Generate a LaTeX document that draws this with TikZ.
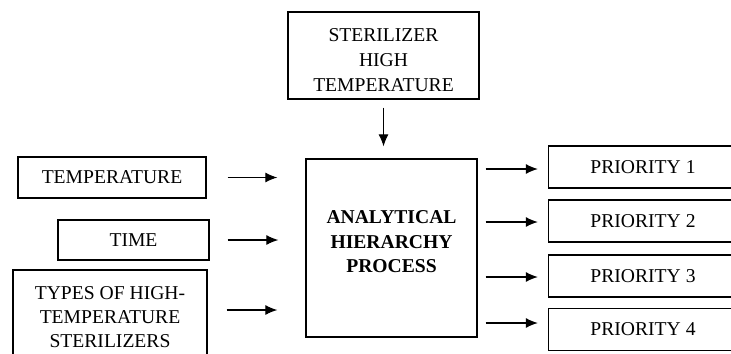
\documentclass[tikz,border=0pt]{standalone}
\usepackage{fontspec}
\setmainfont{Liberation Serif}
\usetikzlibrary{arrows.meta}

\begin{document}
\begin{tikzpicture}[x=0.5pt, y=-0.5pt, main/.style = {draw, rectangle, line width=0.7pt, align=center, inner sep=0pt, font=\fontsize{9.8}{11.8}\selectfont}, arr/.style = {-{Latex[length=6pt,width=5pt]}, line width=0.55pt}]
	\useasboundingbox (0,0) rectangle (731,353);
	\clip (0,0) rectangle (731,353);
	\node[main, minimum width=95.5pt, minimum height=43.5pt, font=\fontsize{9.8}{12.5}\selectfont] (top) at (383.5,55.5) {STERILIZER\\HIGH\\TEMPERATURE\\[-17pt]\mbox{}};
	\node[main, minimum width=85.5pt, minimum height=89pt, font=\fontsize{9.8}{12.2}\selectfont\bfseries] (ahp) at (391.5,248) {ANALYTICAL\\HIERARCHY\\PROCESS\\[-6pt]\mbox{}};
	\node[main, minimum width=94pt, minimum height=20.5pt] (temp) at (112,177.5) {TEMPERATURE};
	\node[main, minimum width=75.5pt, minimum height=20pt] (time) at (133.5,240) {TIME};
	\node[main, minimum width=97pt, minimum height=47pt] (types) at (110,317) {TYPES OF HIGH-\\TEMPERATURE\\STERILIZERS};
	\foreach \i/\y in {1/167,2/221,3/276,4/329.5}
		\node[main, minimum width=94.5pt, minimum height=21pt] (p\i) at (643,\y) {PRIORITY \i};
	\draw[arr, line width=0.45pt, shorten <=4pt, shorten >=6pt] (top.south) -- (ahp.north -| top.south);
	\draw[arr, shorten <=10.5pt, shorten >=14pt] (temp.east) -- (temp.east -| ahp.west);
	\draw[arr, shorten <=9pt, shorten >=13.5pt] (time.east) -- (time.east -| ahp.west);
	\draw[arr, shorten <=9.5pt, shorten >=14pt] ([yshift=3.5pt]types.east) -- ([yshift=3.5pt]types.east -| ahp.west);
	\foreach \i/\d in {1/-1pt,2/-0.5pt,3/-0.5pt,4/3.25pt}
		\draw[arr, shorten <=4pt, shorten >=5pt] ([yshift=\d]ahp.east |- p\i.west) -- ([yshift=\d]p\i.west);
\end{tikzpicture}
\end{document}
